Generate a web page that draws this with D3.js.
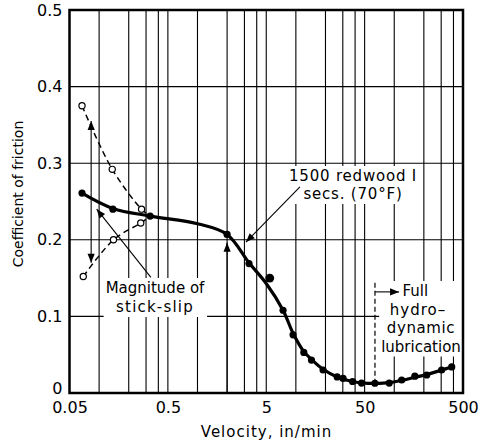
<!DOCTYPE html>
<html><head><meta charset="utf-8">
<script src="https://cdn.jsdelivr.net/npm/d3@7"></script>
<style>
body{margin:0;background:#fff}
svg{display:block}
text{font-family:"DejaVu Sans",sans-serif;fill:#000}
</style>
</head><body>
<svg id="c" width="480" height="442"></svg>
<script>
// ---- axes ----
const xTickValues = [0.05, 0.5, 5, 50, 500];
const xTickLabels = ["0.05", "0.5", "5", "50", "500"];
const xGridValues = [0.1,0.2,0.3,0.4,0.5,1,2,3,4,5,10,20,30,40,50,100,200,300,400];
const yTickValues = [0, 0.1, 0.2, 0.3, 0.4, 0.5];
const yTickLabels = ["0", "0.1", "0.2", "0.3", "0.4", "0.5"];
const yGridValues = [0.1, 0.2, 0.3, 0.4];

// ---- solid curve: measured filled points ----
const dotV = [0.067,0.138,0.33,2.0,3.34,7.41,9.37,12.05,14.4,18.9,26.3,30.2,37.7,46.5,63.6,88.9,119,162,214,303,384];
const dotF = [0.261,0.240,0.231,0.207,0.169,0.108,0.076,0.053,0.043,0.030,0.021,0.019,0.015,0.013,0.0127,0.013,0.017,0.022,0.0235,0.030,0.034];
// faired curve through the points
const curveV = [0.067,0.138,0.33,1.0,2.0,3.34,5.0,7.41,9.37,12.05,14.4,18.9,26.3,37.7,50,63.6,88.9,119,162,214,303,384];
const curveF = [0.261,0.241,0.231,0.221,0.207,0.170,0.143,0.108,0.078,0.054,0.044,0.031,0.021,0.015,0.0128,0.0125,0.0135,0.0165,0.0205,0.024,0.030,0.034];
// stray point
const offV = [5.43];
const offF = [0.150];

// ---- stick-slip branches (open points, dashed) ----
const upperV = [0.067, 0.136, 0.27, 0.33];
const upperF = [0.375, 0.292, 0.240, 0.231];
const lowerV = [0.069, 0.14, 0.265, 0.33];
const lowerF = [0.152, 0.200, 0.222, 0.231];
const openCount = 3;

const svg = d3.select("#c");
const x = d3.scaleLog().domain([0.05, 500]).range([69.5, 463]);
const y = d3.scaleLinear().domain([0, 0.5]).range([393, 10]);

// grid
const grid = svg.append("g").attr("stroke", "#000").attr("stroke-width", 1.1);
grid.selectAll("line.v").data(xGridValues).join("line").attr("class","v")
  .attr("x1", d => x(d)).attr("x2", d => x(d)).attr("y1", y(0)).attr("y2", y(0.5));
grid.selectAll("line.h").data(yGridValues).join("line").attr("class","h")
  .attr("y1", d => y(d)).attr("y2", d => y(d)).attr("x1", x(0.05)).attr("x2", x(500));

// tick labels
const ax = svg.append("g").attr("transform", `translate(0,${y(0)})`)
  .call(d3.axisBottom(x).tickValues(xTickValues).tickFormat((d,i)=>xTickLabels[i]).tickSize(0).tickPadding(9));
const ay = svg.append("g").attr("transform", `translate(${x(0.05)},0)`)
  .call(d3.axisLeft(y).tickValues(yTickValues).tickFormat((d,i)=>yTickLabels[i]).tickSize(0).tickPadding(7));
[ax, ay].forEach(a => { a.select(".domain").remove(); a.selectAll("text").attr("font-size", 16).attr("font-family", '"DejaVu Sans",sans-serif'); });
// lift the "0" label a little off the x labels, as in the original
ay.selectAll(".tick").filter(d => d === 0).select("text").attr("y", -5);

// axis titles
svg.append("text").attr("x", 266.5).attr("y", 436.5).attr("text-anchor", "middle")
  .attr("font-size", 15).attr("letter-spacing", 1).text("Velocity, in/min");
svg.append("text").attr("transform", "translate(23,194) rotate(-90)").attr("text-anchor", "middle")
  .attr("font-size", 14).text("Coefficient of friction");

// annotation layer (white boxes behind text)
const boxes = svg.append("g");
const marks = svg.append("g");
const labels = svg.append("g");

function addLabel(lines, cx, y0, lh, opts) {
  const g = labels.append("g");
  lines.forEach((s, i) => {
    const t = g.append("text").attr("x", cx + (opts.dx ? opts.dx[i] : 0)).attr("y", y0 + i*lh)
      .attr("text-anchor", opts.anchor ? opts.anchor[i] : "middle").attr("font-size", 15).text(s);
    if (opts.ls) t.attr("letter-spacing", opts.ls[i]);
  });
  const b = g.node().getBBox();
  const p = opts.pad || 2;
  boxes.append("rect").attr("x", b.x - p).attr("y", b.y - p + 1).attr("width", b.width + 2*p)
    .attr("height", b.height + 2*p - 2).attr("fill", "#fff");
}

// frame
svg.append("rect").attr("x", x(0.05)).attr("y", y(0.5)).attr("width", x(500)-x(0.05)).attr("height", y(0)-y(0.5))
  .attr("fill", "none").attr("stroke", "#000").attr("stroke-width", 2.5);

// arrow helper
function arrowHead(x1, y1, x2, y2, len, hw) {
  const a = Math.atan2(y2 - y1, x2 - x1);
  const bx = x2 - len*Math.cos(a), by = y2 - len*Math.sin(a);
  const px = -Math.sin(a)*hw, py = Math.cos(a)*hw;
  marks.append("path").attr("d", `M${x2},${y2}L${bx+px},${by+py}L${bx-px},${by-py}Z`).attr("fill", "#000");
}
function arrow(v1, f1, v2, f2, dash) {
  const x1 = x(v1), y1 = y(f1), x2 = x(v2), y2 = y(f2);
  marks.append("line").attr("x1", x1).attr("y1", y1).attr("x2", x2).attr("y2", y2)
    .attr("stroke", "#000").attr("stroke-width", 1.1).attr("stroke-dasharray", dash || null);
  arrowHead(x1, y1, x2, y2, 9, 3.6);
}

// lines
const line = d3.line().x(d => x(d[0])).y(d => y(d[1])).curve(d3.curveCatmullRom.alpha(0.5));
marks.append("path").attr("d", line(d3.zip(upperV, upperF))).attr("fill", "none")
  .attr("stroke", "#000").attr("stroke-width", 1.5).attr("stroke-dasharray", "6,4");
marks.append("path").attr("d", line(d3.zip(lowerV, lowerF))).attr("fill", "none")
  .attr("stroke", "#000").attr("stroke-width", 1.5).attr("stroke-dasharray", "6,4");
marks.append("path").attr("d", line(d3.zip(curveV, curveF))).attr("fill", "none")
  .attr("stroke", "#000").attr("stroke-width", 3.2).attr("stroke-linejoin", "round");

// points
marks.selectAll("circle.f").data(d3.zip(dotV, dotF)).join("circle").attr("class","f")
  .attr("cx", d => x(d[0])).attr("cy", d => y(d[1])).attr("r", 3.6).attr("fill", "#000");
marks.selectAll("circle.s").data(d3.zip(offV, offF)).join("circle").attr("class","s")
  .attr("cx", d => x(d[0])).attr("cy", d => y(d[1])).attr("r", 4.4).attr("fill", "#000");
const opens = d3.zip(upperV, upperF).slice(0, openCount).concat(d3.zip(lowerV, lowerF).slice(0, openCount));
marks.selectAll("circle.o").data(opens).join("circle").attr("class","o")
  .attr("cx", d => x(d[0])).attr("cy", d => y(d[1])).attr("r", 3.1)
  .attr("fill", "#fff").attr("stroke", "#000").attr("stroke-width", 1.2);

// stick-slip magnitude double arrow
arrow(0.083, 0.262, 0.083, 0.355);
arrow(0.083, 0.262, 0.083, 0.170);
// arrow at 2 in/min from the axis
arrow(2.0, 0.0, 2.0, 0.196);
// leader lines
arrow(0.336, 0.151, 0.0945, 0.240);
arrow(11.0, 0.269, 3.11, 0.197);
// full hydrodynamic marker
marks.append("line").attr("x1", x(63.7)).attr("x2", x(63.7)).attr("y1", y(0.144)).attr("y2", y(0.016))
  .attr("stroke", "#000").attr("stroke-width", 1.2).attr("stroke-dasharray", "5,3");
arrow(63.7, 0.132, 112, 0.132);

// text labels
addLabel(["1500 redwood I", "secs. (70°F)"], 353, 181, 18, {ls: [0.8, 0.8], pad: 2});
addLabel(["Magnitude of", "stick-slip"], 155, 293, 19, {ls: [0, 1.2], pad: 2});
addLabel(["Full", "hydro–", "dynamic", "lubrication"], 421, 296, 18.5,
  {anchor: ["start", "middle", "middle", "middle"], dx: [-18.5, -3, 0, 0], ls: [0, 1, 0.6, 0], pad: 2});
</script>
</body></html>
